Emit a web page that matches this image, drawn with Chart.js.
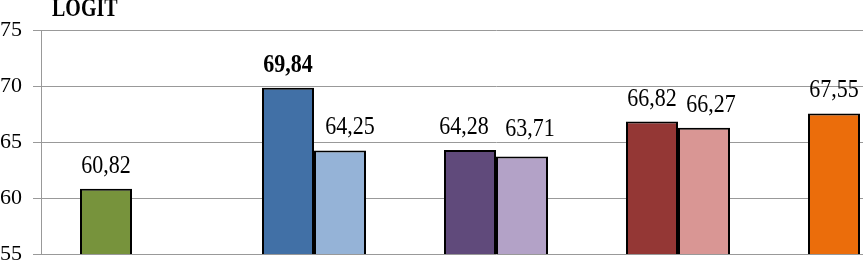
<!DOCTYPE html>
<html>
<head>
<meta charset="utf-8">
<script src="https://cdn.jsdelivr.net/npm/chart.js@4.4.1/dist/chart.umd.min.js"></script>
<style>
   html, body { margin: 0; padding: 0; background: #fff; overflow: hidden; }
   #wrap { width: 863px; height: 260px; overflow: hidden; position: relative; }
   #wrap canvas { position: absolute; left: 0; top: 0; }
</style>
</head>
<body>
<div id="wrap"><canvas id="chartLogit" width="960" height="282"></canvas></div>
<script>
const categorias = ['1', '2', '3', '4', '5'];
const serieA = [60.82, 69.84, 64.28, 66.82, 67.55];
const serieB = [null, 64.25, 63.71, 66.27, null];
const ticksY = [55, 60, 65, 70, 75];

const coloresA = ['#77933C', '#4170A6', '#604A7B', '#943735', '#EB6D0B'];
const coloresB = ['#95B3D7', '#95B3D7', '#B3A2C7', '#D99694', '#D99694'];

// texto algo estirado en vertical, como en la imagen original
function textoEstirado(ctx, txt, x, y, k) {
   ctx.save();
   ctx.translate(x, y);
   ctx.scale(1, k);
   ctx.fillText(txt, 0, 0);
   ctx.restore();
}

// etiquetas sobre las barras (formato con coma decimal)
const etiquetasPlugin = {
   id: 'etiquetas',
   afterDatasetsDraw(chart, args, opts) {
      const ctx = chart.ctx;
      ctx.save();
      ctx.fillStyle = '#000';
      ctx.textAlign = 'center';
      ctx.textBaseline = 'alphabetic';
      chart.data.datasets.forEach((ds, di) => {
         const meta = chart.getDatasetMeta(di);
         meta.data.forEach((bar, i) => {
            const v = ds.data[i];
            if (v === null || v === undefined) return;
            const key = di + '-' + i;
            const dx = (opts.dx && opts.dx[key]) || 0;
            const dy = (opts.dy && opts.dy[key]) || 0;
            const bold = opts.bold && opts.bold.includes(key);
            ctx.font = (bold ? 'bold ' : '') + '22px "Liberation Serif"';
            textoEstirado(ctx, v.toFixed(2).replace('.', ','), bar.x + dx, bar.y - 16 - dy, 1.1);
         });
      });
      // titulo
      ctx.textAlign = 'left';
      ctx.font = 'bold 20px "Liberation Serif"';
      textoEstirado(ctx, 'LOGIT', 52, 16, 1.3);
      ctx.restore();
   }
};

const ctx = document.getElementById('chartLogit').getContext('2d');
const chartLogit = new Chart(ctx, {
   type: 'bar',
   data: {
      labels: categorias,
      datasets: [{
         data: serieA,
         backgroundColor: coloresA,
         borderColor: '#000',
         borderWidth: 2,
         borderSkipped: false,
      }, {
         data: serieB,
         backgroundColor: coloresB,
         borderColor: '#000',
         borderWidth: 2,
         borderSkipped: false,
      }]
   },
   options: {
      responsive: false,
      animation: false,
      layout: {
         padding: { top: 30, bottom: 28, right: 9, left: 0 }
      },
      datasets: {
         bar: { categoryPercentage: 4 / 7, barPercentage: 1 }
      },
      scales: {
         x: { display: false },
         y: {
            min: 55,
            max: 75,
            afterFit: (scale) => { scale.width = 41; },
            afterBuildTicks: (scale) => { scale.ticks = ticksY.map(v => ({ value: v })); },
            grid: { color: '#999', tickLength: 8, lineWidth: 1 },
            border: { display: true, color: '#999' },
            ticks: {
               padding: 11,
               color: '#000',
               font: { family: "'Liberation Serif'", size: 22 }
            }
         }
      },
      plugins: {
         legend: { display: false },
         tooltip: { enabled: false },
         etiquetas: {
            bold: ['0-1'],
            dx: { '1-1': 10, '0-2': -6, '1-2': 8, '1-3': 7 },
            dy: { '1-2': 4 }
         }
      }
   },
   plugins: [etiquetasPlugin]
});
</script>
</body>
</html>
